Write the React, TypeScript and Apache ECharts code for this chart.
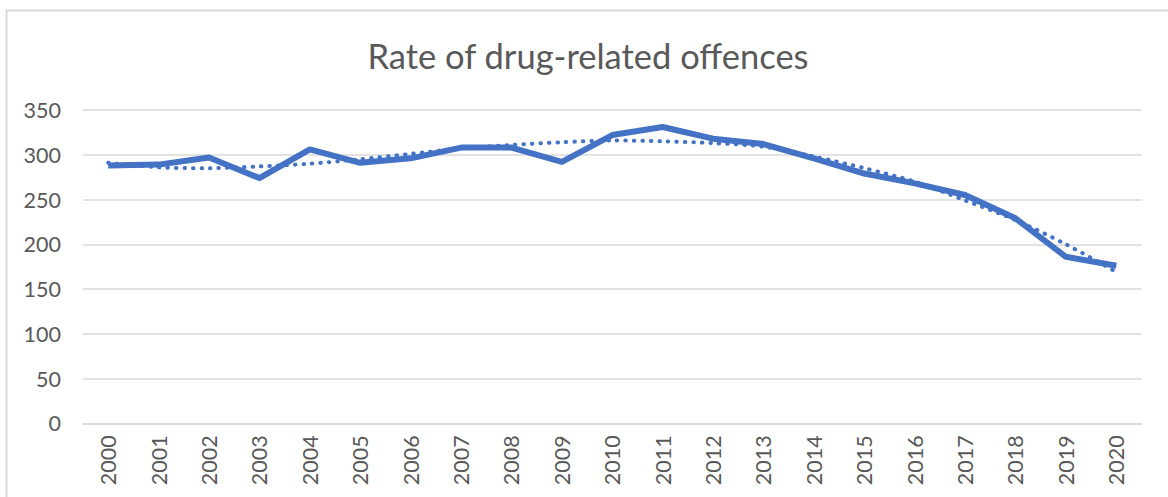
import React, { useEffect, useRef } from "react";
import * as echarts from "echarts";

const years = [
  "2000", "2001", "2002", "2003", "2004", "2005", "2006", "2007", "2008", "2009", "2010",
  "2011", "2012", "2013", "2014", "2015", "2016", "2017", "2018", "2019", "2020",
];
const rates = [288, 289, 297, 274, 306, 291, 296, 308, 308, 292, 322, 331, 318, 312, 296, 279, 268, 255, 229, 186, 176];
const trend = [291, 286, 285, 287, 290, 295, 301, 307, 311, 314, 316, 315, 313, 309, 298, 285, 270, 249, 227, 200, 169];
const yTicks = { min: 0, max: 350, interval: 50 };
const titleText = "Rate of drug-related offences";

export default function App() {
  const ref = useRef<HTMLDivElement>(null);
  useEffect(() => {
    if (!ref.current) return;
    const chart = echarts.init(ref.current, undefined, { renderer: "svg" });
    const blue = "#4472C4";
    const grey = "#595959";
    chart.setOption({
      animation: false,
      backgroundColor: "#ffffff",
      title: {
        text: titleText,
        left: 583,
        top: 33,
        textAlign: "center",
        textStyle: { fontFamily: "Lato", fontSize: 34.5, fontWeight: "normal", color: grey },
      },
      graphic: [
        {
          type: "rect",
          shape: { x: 6.5, y: 10.5, width: 1300, height: 600 },
          style: { fill: "none", stroke: "#d9d9d9", lineWidth: 2 },
          silent: true,
        },
      ],
      grid: { left: 83, right: 26.5, top: 110, bottom: 73.7 },
      xAxis: {
        type: "category",
        data: years,
        boundaryGap: true,
        axisLine: { show: true, lineStyle: { color: "#d9d9d9", width: 1.5 } },
        axisTick: { show: false },
        axisLabel: { rotate: 90, margin: 12, fontFamily: "Lato", fontSize: 21.5, color: grey },
      },
      yAxis: {
        type: "value",
        min: yTicks.min,
        max: yTicks.max,
        interval: yTicks.interval,
        axisLine: { show: false },
        axisTick: { show: false },
        splitLine: { lineStyle: { color: "#d9d9d9", width: 1.5 } },
        axisLabel: { margin: 22, fontFamily: "Lato", fontSize: 21.5, color: grey },
      },
      series: [
        {
          type: "line",
          data: trend,
          smooth: 0.3,
          symbol: "none",
          lineStyle: { color: blue, width: 4, type: [0.5, 8], cap: "round" },
          z: 2,
        },
        {
          type: "line",
          data: rates,
          symbol: "none",
          lineStyle: { color: blue, width: 6, join: "round" },
          z: 3,
        },
      ],
    });
    return () => chart.dispose();
  }, []);
  return (
    <div
      ref={ref}
      style={{ position: "absolute", left: 0, top: 0, width: 1168, height: 497 }}
    />
  );
}
